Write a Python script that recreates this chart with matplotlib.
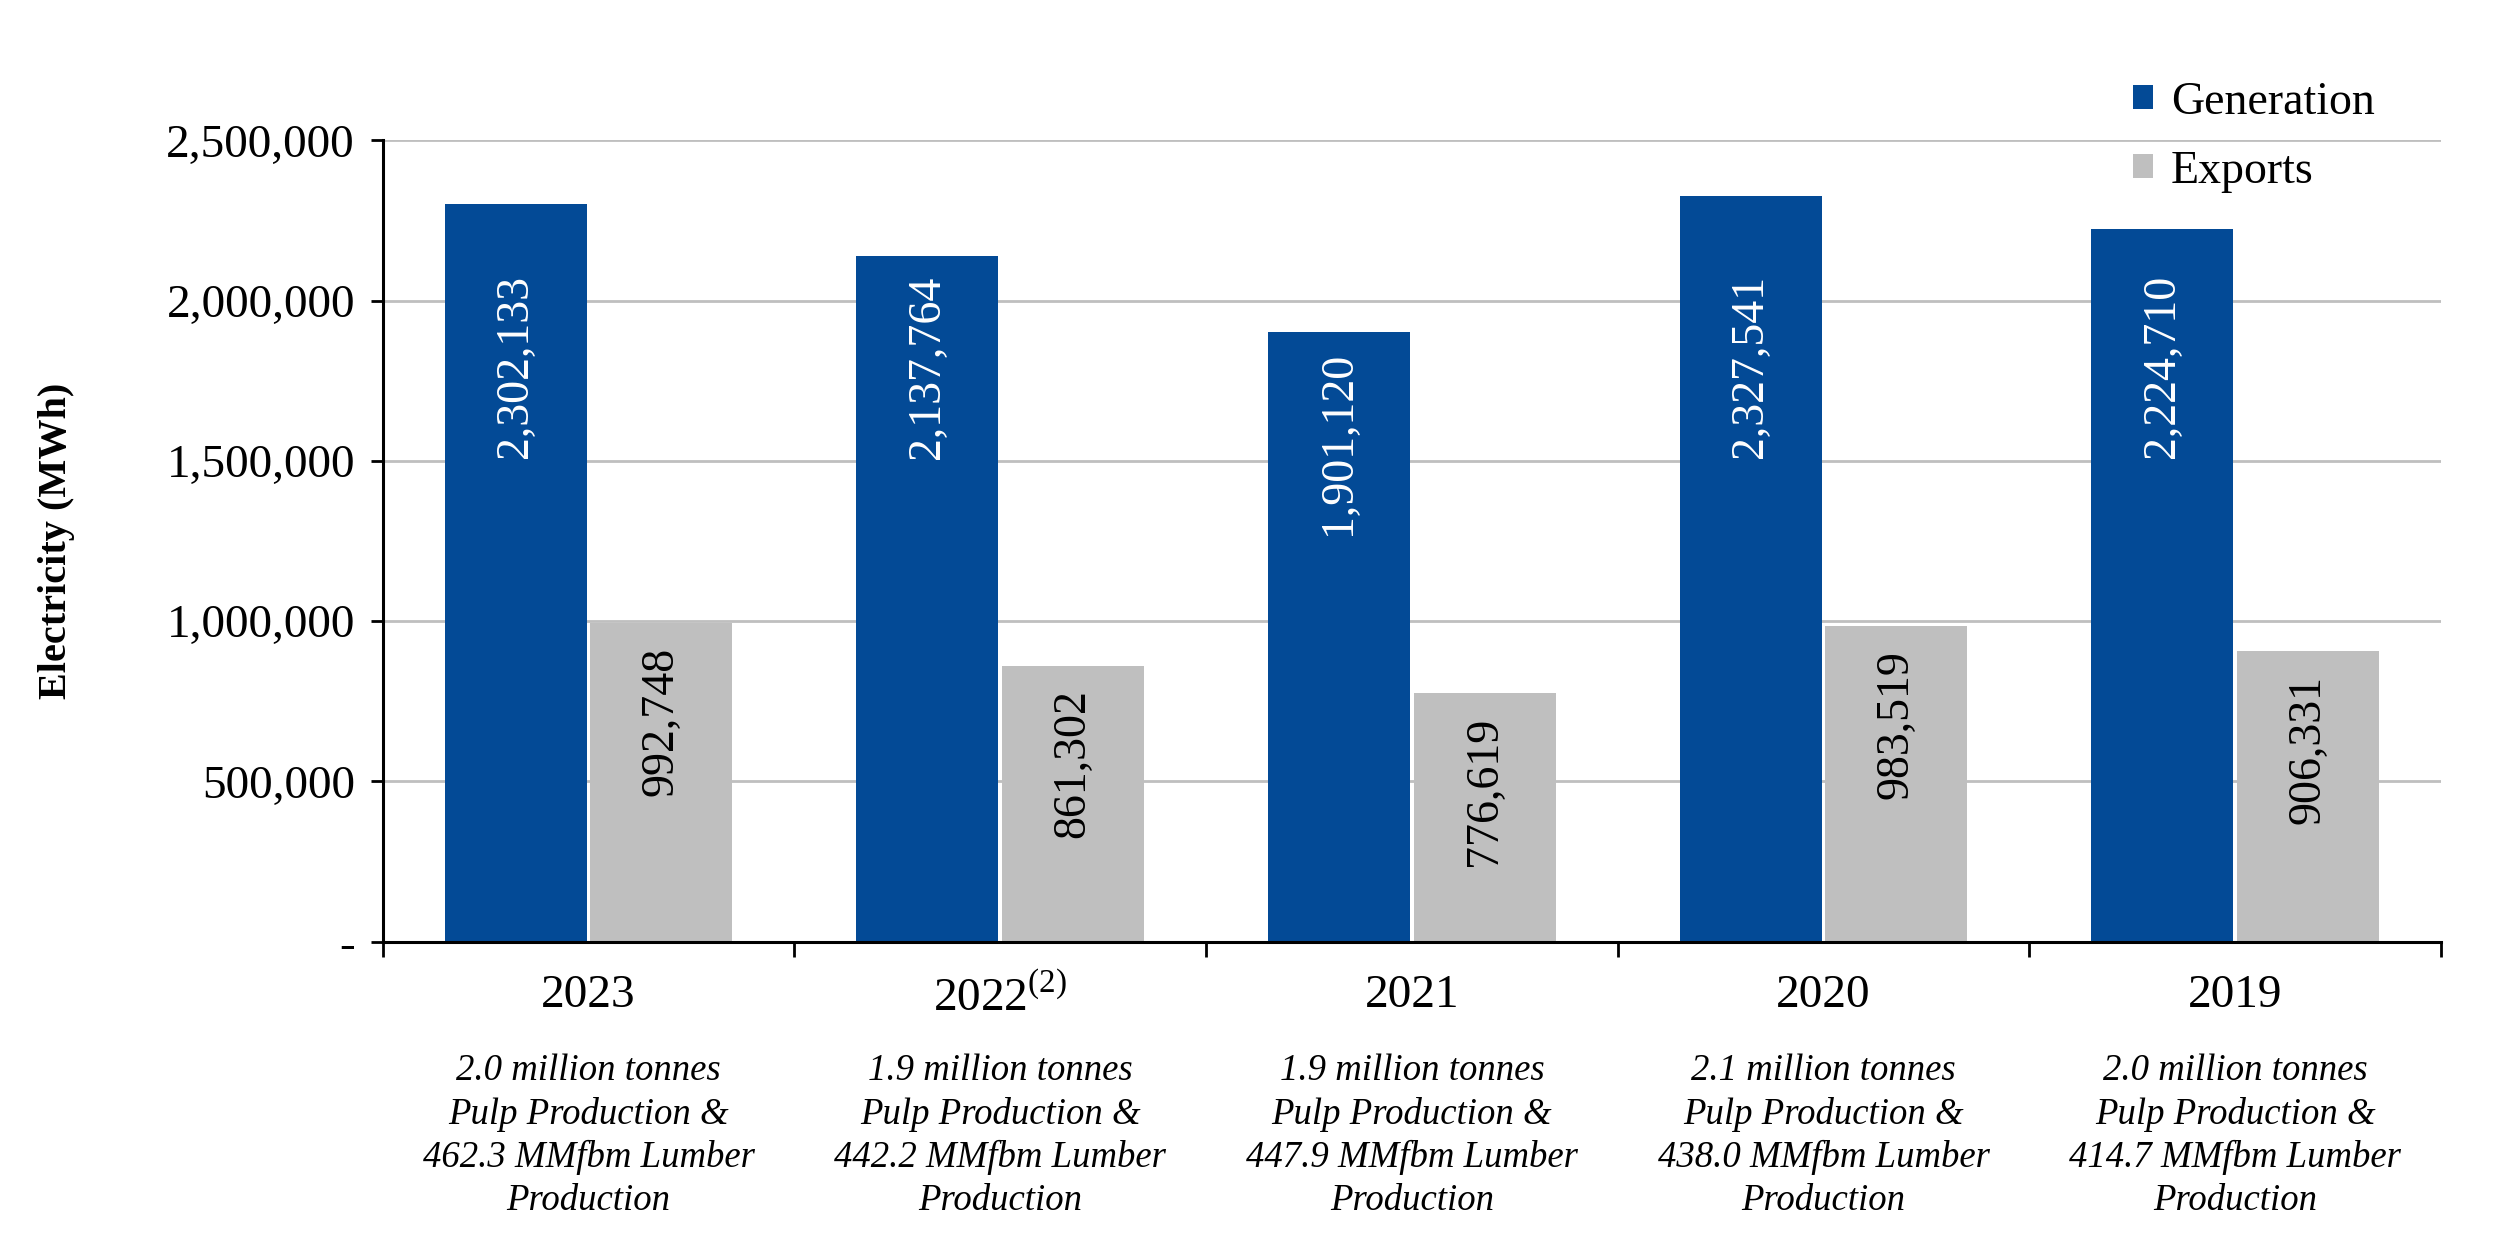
import numpy as np
import matplotlib.pyplot as plt
import matplotlib
from matplotlib.ticker import FuncFormatter
from matplotlib.transforms import blended_transform_factory

matplotlib.rcParams['font.family'] = 'Liberation Serif'
matplotlib.rcParams['mathtext.fontset'] = 'custom'
matplotlib.rcParams['mathtext.rm'] = 'Liberation Serif'

# data
years = ['2023', '2022$^{(2)}$', '2021', '2020', '2019']
generation = [2302133, 2137764, 1901120, 2327541, 2224710]
exports = [992748, 861302, 776619, 983519, 906331]
notes = [
    '2.0 million tonnes\nPulp Production &\n462.3 MMfbm Lumber\nProduction',
    '1.9 million tonnes\nPulp Production &\n442.2 MMfbm Lumber\nProduction',
    '1.9 million tonnes\nPulp Production &\n447.9 MMfbm Lumber\nProduction',
    '2.1 million tonnes\nPulp Production &\n438.0 MMfbm Lumber\nProduction',
    '2.0 million tonnes\nPulp Production &\n414.7 MMfbm Lumber\nProduction',
]

gen_color = '#034A96'
exp_color = '#BFBFBF'

fig = plt.figure(figsize=(25.01, 12.48), dpi=100)
ax = fig.add_axes([0.153, 0.2455, 0.823, 0.642])

x = np.arange(len(years))
w = 0.345
ax.bar(x - 0.177, generation, width=w, color=gen_color, label='Generation', zorder=2)
ax.bar(x + 0.177, exports, width=w, color=exp_color, label='Exports', zorder=2)

# value labels inside bars (rotated); generation labels kept on one level when bars are tall
label_cap = 2140000
for xi, v in zip(x, generation):
    ax.annotate(f'{v:,}', (xi - 0.177, min(v, label_cap)), xytext=(0, -14), textcoords='offset points',
                rotation=90, ha='center', va='top', color='white', fontsize=33, zorder=3)
for xi, v in zip(x, exports):
    ax.annotate(f'{v:,}', (xi + 0.177, v), xytext=(0, -17), textcoords='offset points',
                rotation=90, ha='center', va='top', color='black', fontsize=33, zorder=3)

ax.set_xlim(-0.5, len(years) - 0.5)
ax.set_ylim(0, 2500000)
ax.set_yticks(np.arange(0, 2500001, 500000))
ax.yaxis.set_major_formatter(FuncFormatter(lambda v, p: '-' if v == 0 else f'{int(v):,}'))
ax.tick_params(axis='y', labelsize=34, length=9, width=2, pad=11)

ax.set_xticks(x)
ax.set_xticklabels(years, fontsize=34)
ax.set_xticks(np.arange(-0.5, len(years)), minor=True)
ax.tick_params(axis='x', which='major', length=0, pad=24)
ax.tick_params(axis='x', which='minor', length=11, width=2)

ax.spines['top'].set_visible(False)
ax.spines['right'].set_visible(False)
ax.spines['left'].set_linewidth(2.2)
ax.spines['bottom'].set_linewidth(2.2)
ax.grid(axis='y', color='#BFBFBF', linewidth=2)
ax.set_axisbelow(True)

ax.set_ylabel('Electricity (MWh)', fontsize=29, fontweight='bold', labelpad=66)

trans = blended_transform_factory(ax.transData, ax.transAxes)
for xi, note in zip(x, notes):
    ax.text(xi, -0.14, note, transform=trans, ha='center', va='top',
            fontsize=26.5, style='italic', linespacing=1.31)

fig.legend(loc='upper left', bbox_to_anchor=(0.853, 0.935), frameon=False, fontsize=33,
           handlelength=0.42, handleheight=0.42, handletextpad=0.4, labelspacing=0.58,
           borderpad=0, borderaxespad=0)

plt.savefig('out.png', dpi=100)
